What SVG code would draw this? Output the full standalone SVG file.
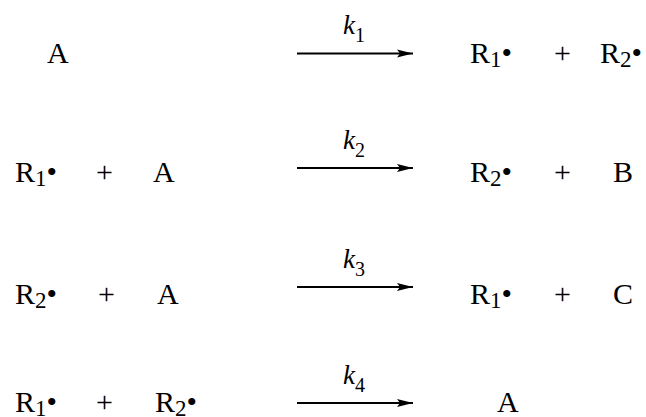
<svg xmlns="http://www.w3.org/2000/svg" width="646" height="417" viewBox="0 0 646 417">
<style>
.t{font-family:"Liberation Serif","Times New Roman",serif;font-size:30px;fill:#000}
.s{font-size:23px}
.k{font-family:"Liberation Serif","Times New Roman",serif;font-size:27px;font-style:italic;fill:#000}
.ks{font-size:20px;font-style:normal}
.arr{stroke:#000;stroke-width:2.2;fill:none}
</style>
<defs>
<marker id="ah" markerUnits="userSpaceOnUse" markerWidth="17" markerHeight="10" refX="16" refY="4.5" orient="auto">
<path d="M0,0.5 L16,4.5 L0,8.5 L3,4.5 z" fill="#000"/>
</marker>
</defs>
<rect width="646" height="417" fill="#fff"/>
<g id="connectors">
<line class="arr" x1="297" y1="53.5" x2="413" y2="53.5" marker-end="url(#ah)"/>
<line class="arr" x1="297" y1="168" x2="413" y2="168" marker-end="url(#ah)"/>
<line class="arr" x1="297" y1="287" x2="413" y2="287" marker-end="url(#ah)"/>
<line class="arr" x1="297" y1="403" x2="413" y2="403" marker-end="url(#ah)"/>
<text class="k" x="343" y="34">k<tspan class="ks" dy="8">1</tspan></text>
<text class="k" x="343" y="149">k<tspan class="ks" dy="8">2</tspan></text>
<text class="k" x="343" y="268">k<tspan class="ks" dy="8">3</tspan></text>
<text class="k" x="343" y="384">k<tspan class="ks" dy="8">4</tspan></text>
</g>
<g id="reaction1">
<text class="t" x="47" y="63">A</text>
<text class="t" x="470" y="63">R<tspan class="s" dy="4">1</tspan><tspan dy="-4">•</tspan></text>
<text class="t" x="554" y="63">+</text>
<text class="t" x="600" y="63">R<tspan class="s" dy="4">2</tspan><tspan dy="-4">•</tspan></text>
</g>
<g id="reaction2">
<text class="t" x="15" y="182">R<tspan class="s" dy="4">1</tspan><tspan dy="-4">•</tspan></text>
<text class="t" x="96" y="182">+</text>
<text class="t" x="153" y="182">A</text>
<text class="t" x="470" y="182">R<tspan class="s" dy="4">2</tspan><tspan dy="-4">•</tspan></text>
<text class="t" x="554" y="182">+</text>
<text class="t" x="613" y="182">B</text>
</g>
<g id="reaction3">
<text class="t" x="15" y="304">R<tspan class="s" dy="4">2</tspan><tspan dy="-4">•</tspan></text>
<text class="t" x="98" y="304">+</text>
<text class="t" x="157" y="304">A</text>
<text class="t" x="470" y="304">R<tspan class="s" dy="4">1</tspan><tspan dy="-4">•</tspan></text>
<text class="t" x="554" y="304">+</text>
<text class="t" x="613" y="304">C</text>
</g>
<g id="reaction4">
<text class="t" x="15" y="412">R<tspan class="s" dy="4">1</tspan><tspan dy="-4">•</tspan></text>
<text class="t" x="96" y="412">+</text>
<text class="t" x="155" y="412">R<tspan class="s" dy="4">2</tspan><tspan dy="-4">•</tspan></text>
<text class="t" x="497" y="412">A</text>
</g>
</svg>
